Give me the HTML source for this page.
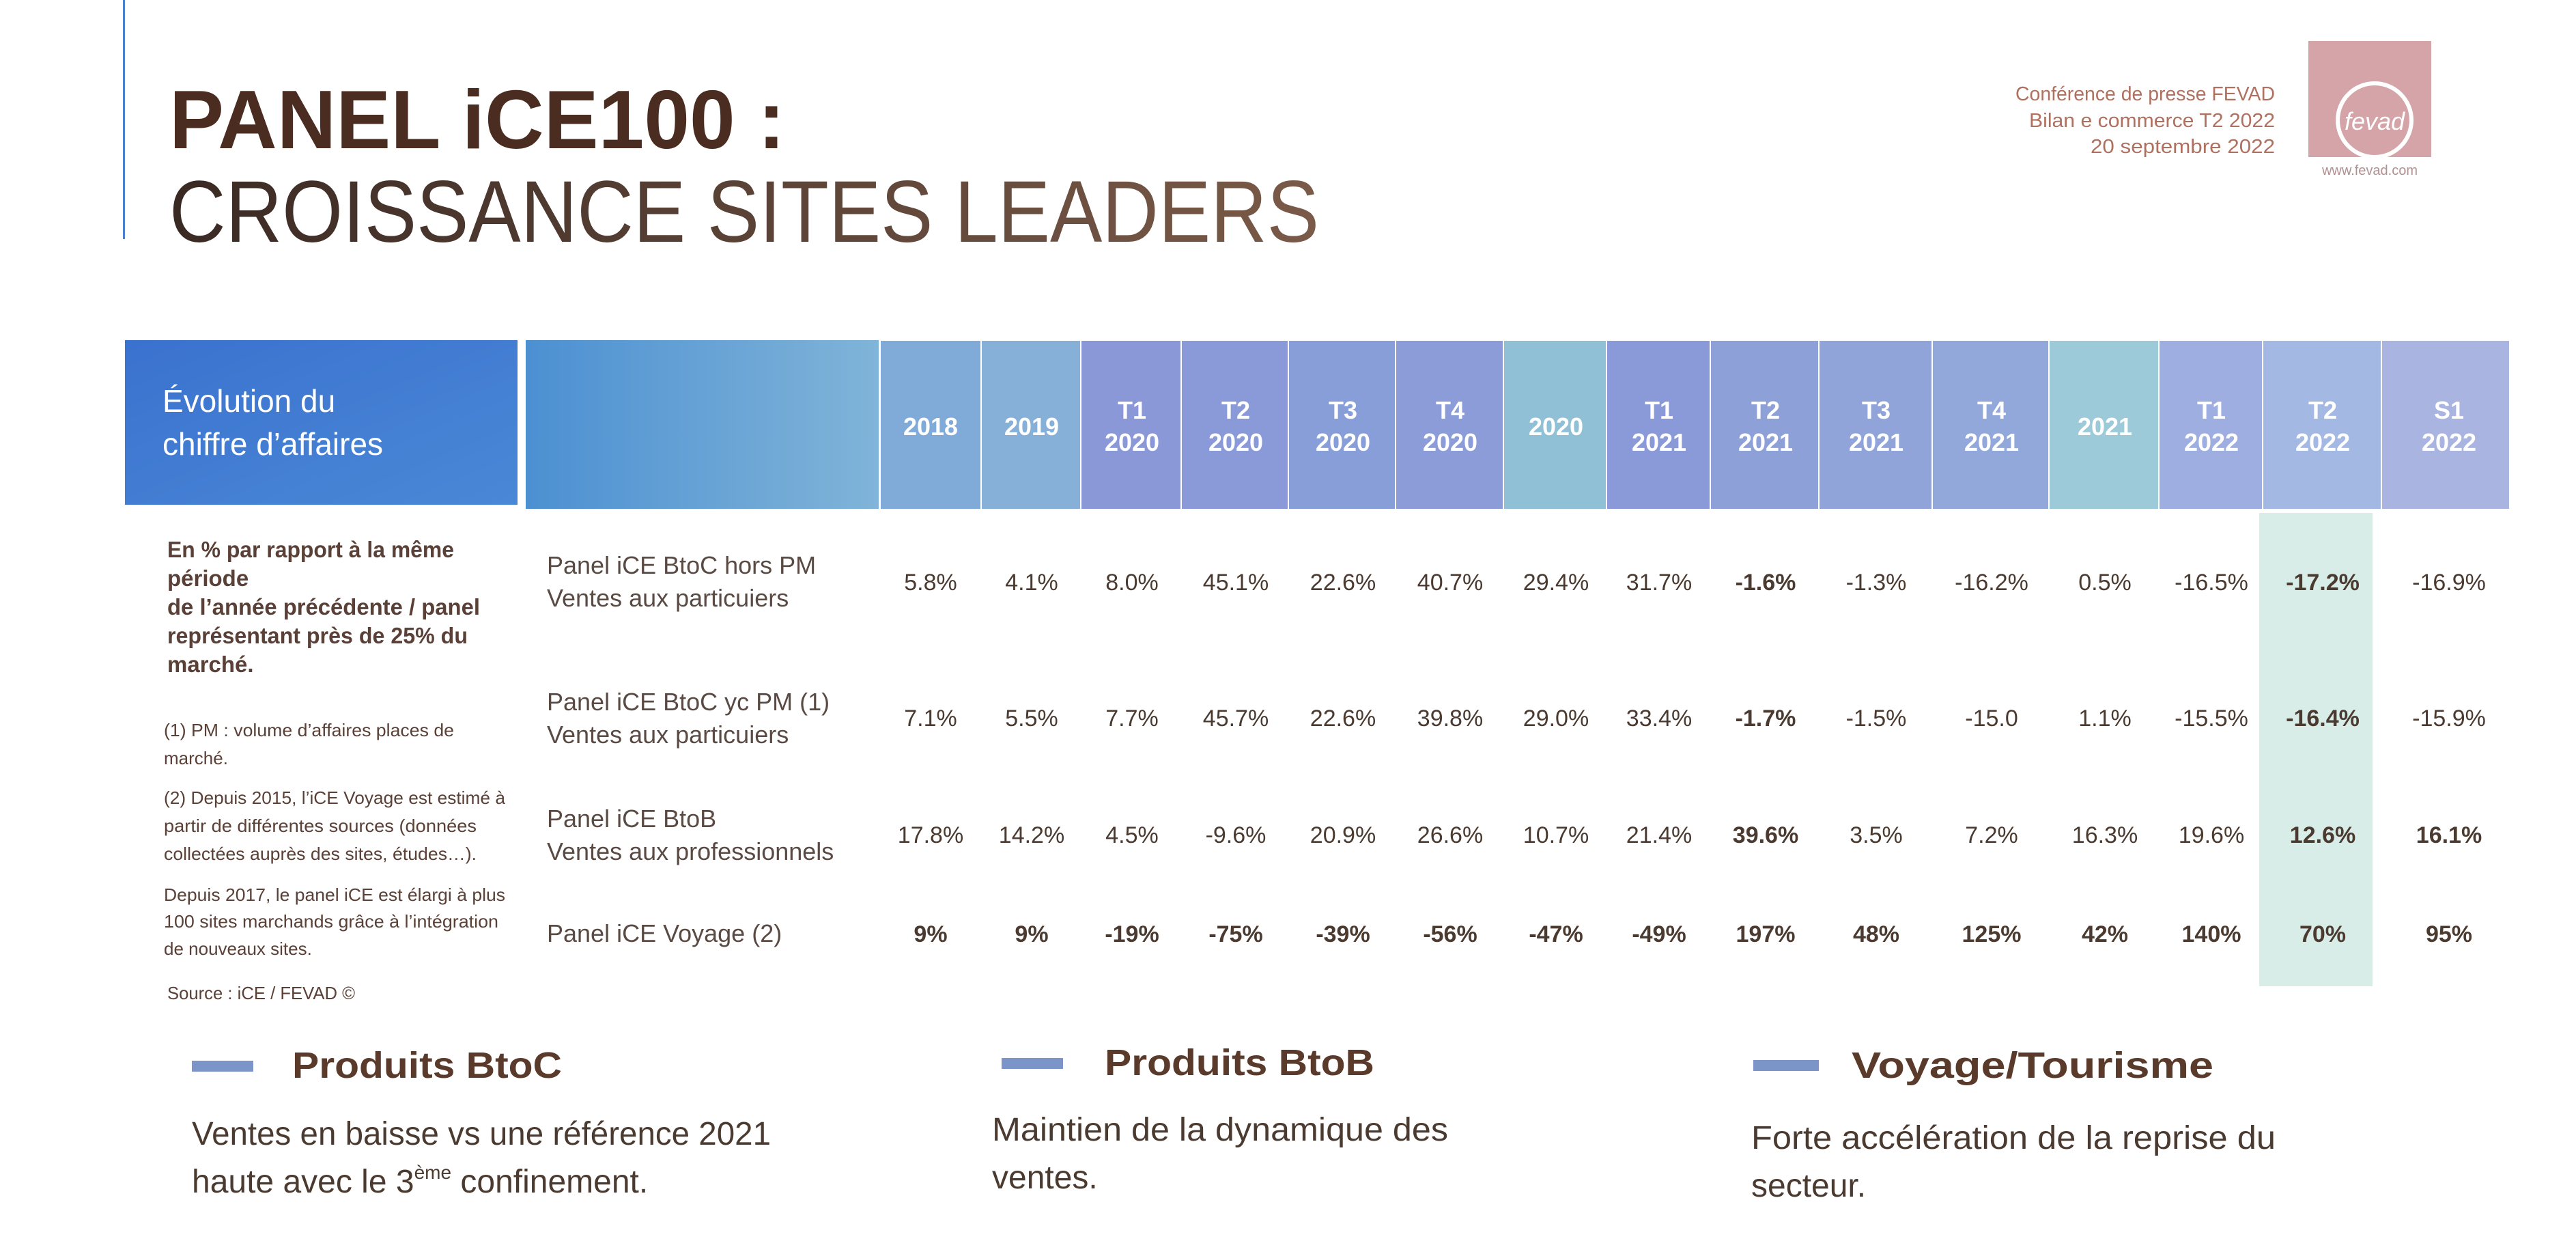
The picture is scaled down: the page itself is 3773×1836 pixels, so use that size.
<!DOCTYPE html>
<html><head><meta charset="utf-8"><style>html,body{margin:0;padding:0;background:#fff}svg{display:block}</style></head>
<body>
<svg width="3773" height="1836" viewBox="0 0 3773 1836" xmlns="http://www.w3.org/2000/svg" font-family="'Liberation Sans', sans-serif">
<defs>
<linearGradient id="g0" x1="0" y1="0" x2="1" y2="1"><stop offset="0" stop-color="#3a72cf"/><stop offset="1" stop-color="#4a88d6"/></linearGradient>
<linearGradient id="g1" x1="0" y1="0" x2="1" y2="0"><stop offset="0" stop-color="#4c90d2"/><stop offset="1" stop-color="#80b4d8"/></linearGradient>
<linearGradient id="tg" x1="0" y1="0" x2="1" y2="0"><stop offset="0" stop-color="#3a2a24"/><stop offset="1" stop-color="#7a5a48"/></linearGradient>
</defs>
<rect x="180" y="0" width="3" height="350" fill="#4a80d0"/>
<text x="248" y="217" font-size="122" font-weight="bold" fill="#4a2c20" textLength="902" lengthAdjust="spacingAndGlyphs">PANEL iCE100 :</text>
<text x="248" y="354" font-size="128" fill="url(#tg)" textLength="1684" lengthAdjust="spacingAndGlyphs">CROISSANCE SITES LEADERS</text>
<g font-size="29" fill="#b07060" text-anchor="end">
<text x="3332" y="147" textLength="380" lengthAdjust="spacingAndGlyphs">Conférence de presse FEVAD</text>
<text x="3332" y="186" textLength="360" lengthAdjust="spacingAndGlyphs">Bilan e commerce T2 2022</text>
<text x="3332" y="224" textLength="270" lengthAdjust="spacingAndGlyphs">20 septembre 2022</text>
</g>
<rect x="3381" y="60" width="180" height="170" fill="#d4a4a8"/>
<circle cx="3478" cy="176" r="54" fill="none" stroke="#fff" stroke-width="6"/>
<text x="3478" y="190" font-size="36" font-style="italic" fill="#fff" text-anchor="middle">fevad</text>
<text x="3471" y="256" font-size="20" fill="#b09090" text-anchor="middle">www.fevad.com</text>
<rect x="183" y="498" width="575" height="241" fill="url(#g0)"/>
<text x="238" y="603" font-size="46" fill="#fff">Évolution du</text>
<text x="238" y="666" font-size="46" fill="#fff">chiffre d’affaires</text>
<rect x="770" y="498" width="517" height="247" fill="url(#g1)"/>
<g>
<rect x="1290" y="499" width="146" height="246" fill="#80aad8"/>
<rect x="1438" y="499" width="144" height="246" fill="#86b0d8"/>
<rect x="1584" y="499" width="145" height="246" fill="#8a98d8"/>
<rect x="1731" y="499" width="155" height="246" fill="#8a9ad8"/>
<rect x="1888" y="499" width="155" height="246" fill="#889ed8"/>
<rect x="2045" y="499" width="156" height="246" fill="#8c9cd8"/>
<rect x="2203" y="499" width="149" height="246" fill="#90c0d6"/>
<rect x="2354" y="499" width="150" height="246" fill="#8a9ad8"/>
<rect x="2506" y="499" width="157" height="246" fill="#8ea0d8"/>
<rect x="2665" y="499" width="164" height="246" fill="#90a4da"/>
<rect x="2831" y="499" width="169" height="246" fill="#92a8da"/>
<rect x="3002" y="499" width="159" height="246" fill="#9ccad8"/>
<rect x="3163" y="499" width="150" height="246" fill="#9eaee0"/>
<rect x="3315" y="499" width="172" height="246" fill="#a4b8e4"/>
<rect x="3489" y="499" width="186" height="246" fill="#aab4e0"/>
</g>
<rect x="3309" y="751" width="166" height="693" fill="#d8ece8"/>
<g fill="#fff" font-size="36" font-weight="bold" text-anchor="middle">
<text x="1363" y="637">2018</text><text x="1511" y="637">2019</text>
<text x="1658" y="613">T1</text><text x="1658" y="660">2020</text>
<text x="1810" y="613">T2</text><text x="1810" y="660">2020</text>
<text x="1967" y="613">T3</text><text x="1967" y="660">2020</text>
<text x="2124" y="613">T4</text><text x="2124" y="660">2020</text>
<text x="2279" y="637">2020</text>
<text x="2430" y="613">T1</text><text x="2430" y="660">2021</text>
<text x="2586" y="613">T2</text><text x="2586" y="660">2021</text>
<text x="2748" y="613">T3</text><text x="2748" y="660">2021</text>
<text x="2917" y="613">T4</text><text x="2917" y="660">2021</text>
<text x="3083" y="637">2021</text>
<text x="3239" y="613">T1</text><text x="3239" y="660">2022</text>
<text x="3402" y="613">T2</text><text x="3402" y="660">2022</text>
<text x="3587" y="613">S1</text><text x="3587" y="660">2022</text>
</g>
<g fill="#5a4a44" font-size="36">
<text x="801" y="840">Panel iCE BtoC hors PM</text><text x="801" y="888">Ventes aux particuiers</text>
<text x="801" y="1040">Panel iCE BtoC yc PM (1)</text><text x="801" y="1088">Ventes aux particuiers</text>
<text x="801" y="1211">Panel iCE BtoB</text><text x="801" y="1259">Ventes aux professionnels</text>
<text x="801" y="1379">Panel iCE Voyage (2)</text>
</g>
<g fill="#4a3a30" font-size="34" text-anchor="middle">
<g transform="translate(0,864)"><text x="1363">5.8%</text><text x="1511">4.1%</text><text x="1658">8.0%</text><text x="1810">45.1%</text><text x="1967">22.6%</text><text x="2124">40.7%</text><text x="2279">29.4%</text><text x="2430">31.7%</text><text x="2586" font-weight="bold">-1.6%</text><text x="2748">-1.3%</text><text x="2917">-16.2%</text><text x="3083">0.5%</text><text x="3239">-16.5%</text><text x="3402" font-weight="bold">-17.2%</text><text x="3587">-16.9%</text></g>
<g transform="translate(0,1063)"><text x="1363">7.1%</text><text x="1511">5.5%</text><text x="1658">7.7%</text><text x="1810">45.7%</text><text x="1967">22.6%</text><text x="2124">39.8%</text><text x="2279">29.0%</text><text x="2430">33.4%</text><text x="2586" font-weight="bold">-1.7%</text><text x="2748">-1.5%</text><text x="2917">-15.0</text><text x="3083">1.1%</text><text x="3239">-15.5%</text><text x="3402" font-weight="bold">-16.4%</text><text x="3587">-15.9%</text></g>
<g transform="translate(0,1234)"><text x="1363">17.8%</text><text x="1511">14.2%</text><text x="1658">4.5%</text><text x="1810">-9.6%</text><text x="1967">20.9%</text><text x="2124">26.6%</text><text x="2279">10.7%</text><text x="2430">21.4%</text><text x="2586" font-weight="bold">39.6%</text><text x="2748">3.5%</text><text x="2917">7.2%</text><text x="3083">16.3%</text><text x="3239">19.6%</text><text x="3402" font-weight="bold">12.6%</text><text x="3587" font-weight="bold">16.1%</text></g>
<g transform="translate(0,1379)" font-weight="bold"><text x="1363">9%</text><text x="1511">9%</text><text x="1658">-19%</text><text x="1810">-75%</text><text x="1967">-39%</text><text x="2124">-56%</text><text x="2279">-47%</text><text x="2430">-49%</text><text x="2586">197%</text><text x="2748">48%</text><text x="2917">125%</text><text x="3083">42%</text><text x="3239">140%</text><text x="3402">70%</text><text x="3587">95%</text></g>
</g>
<g fill="#5a4036" font-size="33" font-weight="bold">
<text x="245" y="816" textLength="420" lengthAdjust="spacingAndGlyphs">En % par rapport à la même</text>
<text x="245" y="858">période</text>
<text x="245" y="900" textLength="458" lengthAdjust="spacingAndGlyphs">de l’année précédente / panel</text>
<text x="245" y="942" textLength="440" lengthAdjust="spacingAndGlyphs">représentant près de 25% du</text>
<text x="245" y="984">marché.</text>
</g>
<g fill="#5a4036" font-size="26">
<text x="240" y="1078" textLength="425" lengthAdjust="spacingAndGlyphs">(1) PM : volume d’affaires places de</text>
<text x="240" y="1119">marché.</text>
<text x="240" y="1177" textLength="500" lengthAdjust="spacingAndGlyphs">(2) Depuis 2015, l’iCE Voyage est estimé à</text>
<text x="240" y="1218" textLength="458" lengthAdjust="spacingAndGlyphs">partir de différentes sources (données</text>
<text x="240" y="1259" textLength="458" lengthAdjust="spacingAndGlyphs">collectées auprès des sites, études…).</text>
<text x="240" y="1319" textLength="500" lengthAdjust="spacingAndGlyphs">Depuis 2017, le panel iCE est élargi à plus</text>
<text x="240" y="1358" textLength="490" lengthAdjust="spacingAndGlyphs">100 sites marchands grâce à l’intégration</text>
<text x="240" y="1398">de nouveaux sites.</text>
<text x="245" y="1463" textLength="275" lengthAdjust="spacingAndGlyphs">Source : iCE / FEVAD ©</text>
</g>
<rect x="281" y="1553" width="90" height="16" fill="#7c95c8"/>
<rect x="1467" y="1549" width="90" height="16" fill="#7c95c8"/>
<rect x="2568" y="1552" width="96" height="16" fill="#7c95c8"/>
<g fill="#5a3a2a" font-size="54" font-weight="bold">
<text x="428" y="1578" textLength="395" lengthAdjust="spacingAndGlyphs">Produits BtoC</text>
<text x="1618" y="1574" textLength="395" lengthAdjust="spacingAndGlyphs">Produits BtoB</text>
<text x="2712" y="1578" textLength="530" lengthAdjust="spacingAndGlyphs">Voyage/Tourisme</text>
</g>
<g fill="#4a3a30" font-size="48">
<text x="281" y="1676" textLength="848" lengthAdjust="spacingAndGlyphs">Ventes en baisse vs une référence 2021</text>
<text x="281" y="1746">haute avec le 3<tspan font-size="28" dy="-20">ème</tspan><tspan dy="20"> confinement.</tspan></text>
<text x="1453" y="1670" textLength="668" lengthAdjust="spacingAndGlyphs">Maintien de la dynamique des</text>
<text x="1453" y="1740">ventes.</text>
<text x="2565" y="1682" textLength="768" lengthAdjust="spacingAndGlyphs">Forte accélération de la reprise du</text>
<text x="2565" y="1752">secteur.</text>
</g>
</svg>
</body></html>
